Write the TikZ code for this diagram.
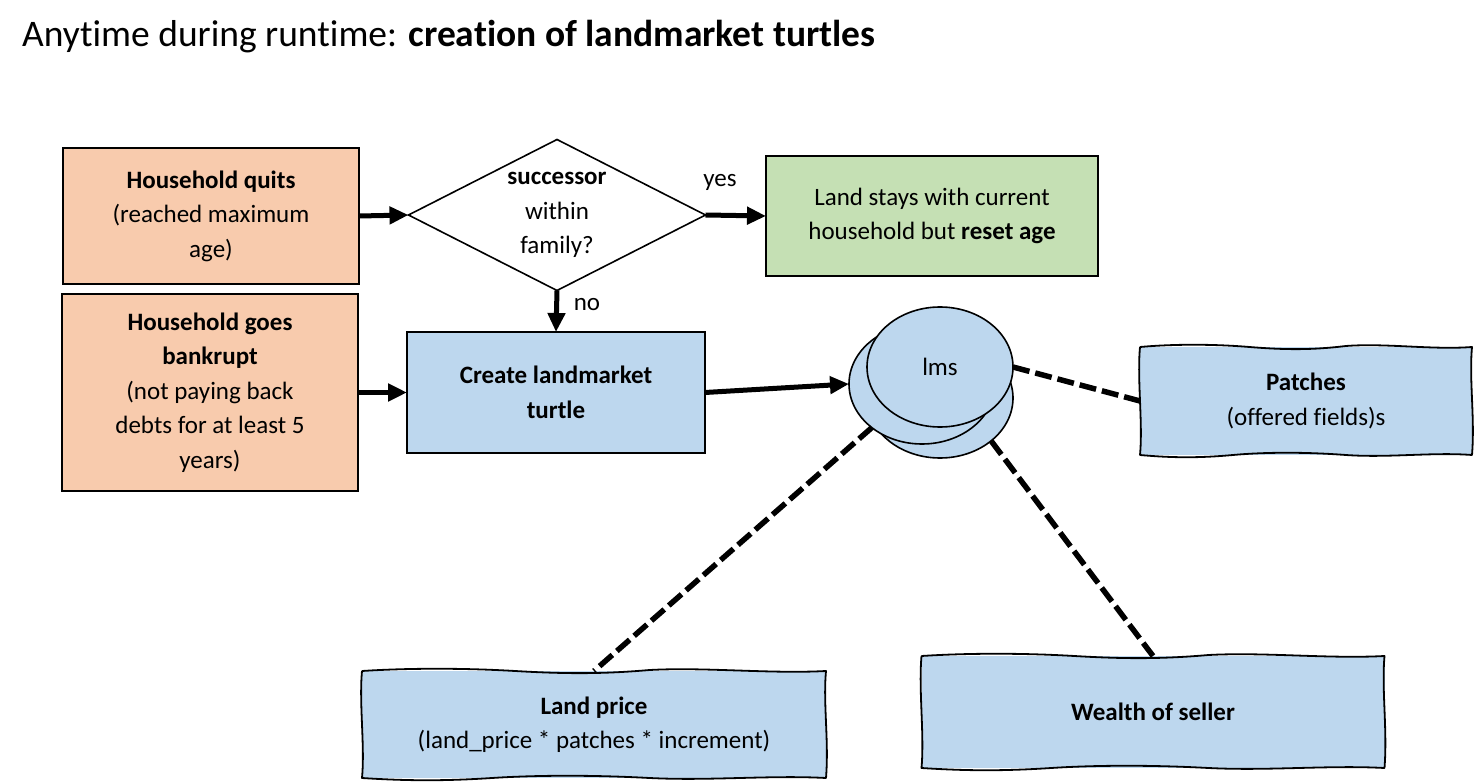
\documentclass[tikz,border=0pt]{standalone}
\usepackage{fontspec}
\setmainfont[Ligatures=NoCommon]{Carlito}
\usetikzlibrary{shapes.geometric,arrows.meta,calc}
\definecolor{hhorange}{HTML}{F8CBAD}
\definecolor{hhgreen}{HTML}{C5E0B4}
\definecolor{hhblue}{HTML}{BDD7EE}
\newcommand\wavyoutline[1]{%
\draw[wavyline]
 (#1.north west)
 .. controls ($(#1.north west)!0.10!(#1.north east)+(0,-3)$) and ($(#1.north west)!0.22!(#1.north east)+(0,-3)$) .. ($(#1.north west)!0.33!(#1.north east)$)
 .. controls ($(#1.north west)!0.44!(#1.north east)+(0,3)$) and ($(#1.north west)!0.52!(#1.north east)+(0,3)$) .. ($(#1.north west)!0.62!(#1.north east)+(0,-1)$)
 .. controls ($(#1.north west)!0.74!(#1.north east)+(0,-4)$) and ($(#1.north west)!0.88!(#1.north east)+(0,3)$) .. (#1.north east)
 .. controls ($(#1.north east)!0.3!(#1.south east)+(-3,0)$) and ($(#1.north east)!0.65!(#1.south east)+(3,0)$) .. (#1.south east)
 .. controls ($(#1.south east)!0.12!(#1.south west)+(0,-3)$) and ($(#1.south east)!0.25!(#1.south west)+(0,3)$) .. ($(#1.south east)!0.38!(#1.south west)$)
 .. controls ($(#1.south east)!0.5!(#1.south west)+(0,-3)$) and ($(#1.south east)!0.62!(#1.south west)+(0,-3)$) .. ($(#1.south east)!0.72!(#1.south west)$)
 .. controls ($(#1.south east)!0.82!(#1.south west)+(0,3)$) and ($(#1.south east)!0.9!(#1.south west)+(0,3)$) .. (#1.south west)
 .. controls ($(#1.south west)!0.3!(#1.north west)+(3,0)$) and ($(#1.south west)!0.7!(#1.north west)+(-3,0)$) .. (#1.north west);
}
\begin{document}
\begin{tikzpicture}[x=1pt,y=-1pt,
  txt/.style={font=\fontsize{25}{34.5}\selectfont, align=center},
  plainbox/.style={txt, draw, line width=1.8pt, inner sep=0pt, outer sep=0pt},
  sketchbox/.style={txt, fill=hhblue, inner sep=0pt, outer sep=0pt},
  lmsnode/.style={ellipse, draw, line width=1.6pt, fill=hhblue, minimum width=146pt, minimum height=120pt, inner sep=0pt, outer sep=0pt},
  flow/.style={line width=5pt, -{Triangle[length=19pt,width=17pt]}},
  assoc/.style={line width=5.5pt, dash pattern=on 17pt off 6pt},
  wavyline/.style={line width=1.8pt, line join=round}
]
\useasboundingbox[fill=white] (0,0) rectangle (1475,783);

\node[anchor=base west, font=\fontsize{37.5}{44}\selectfont, inner sep=0pt] (title) at (22,47)
  {Anytime during runtime: \textbf{creation of landmarket turtles}};

\node[plainbox, fill=hhorange, minimum width=296pt, minimum height=136pt] (quits) at (211,216)
  {\textbf{Household quits}\\(reached maximum\\age)};
\node[plainbox, fill=hhorange, minimum width=296pt, minimum height=197pt] (bankrupt) at (210,392.5)
  {\textbf{Household goes}\\\textbf{bankrupt}\\(not paying back\\debts for at least 5\\years)};

\node[diamond, draw, line width=1.6pt, minimum width=297pt, minimum height=151pt, inner sep=0pt, outer sep=0pt] (dec) at (557,215) {};
\node[txt] (dectext) at (dec.center) {\textbf{successor}\\within\\family?};

\node[plainbox, fill=hhgreen, minimum width=332pt, minimum height=120pt] (stay) at (932,216)
  {Land stays with current\\household but \textbf{reset age}};

\node[plainbox, fill=hhblue, minimum width=298pt, minimum height=121pt] (create) at (556,392.5)
  {\textbf{Create landmarket}\\\textbf{turtle}};

\node[lmsnode] (lmsC) at (940,398) {};
\node[lmsnode] (lmsB) at (922,384) {};
\node[lmsnode, txt] (lmsA) at (940,367) {lms};

\node[sketchbox, minimum width=332pt, minimum height=108pt] (patches) at (1306,401)
  {\textbf{Patches}\\(offered fields)s};
\wavyoutline{patches}
\node[sketchbox, minimum width=464pt, minimum height=107pt] (landprice) at (594,724.5)
  {\textbf{Land price}\\(land\_price * patches * increment)};
\wavyoutline{landprice}
\node[sketchbox, minimum width=463pt, minimum height=112pt] (wealth) at (1153,712)
  {\textbf{Wealth of seller}};
\wavyoutline{wealth}

\node[txt] (yeslbl) at (720,182) {yes};
\node[txt] (nolbl) at (587,305) {no};

\draw[flow] (quits.east) -- (dec.west);
\draw[flow] (bankrupt.east) -- (create.west);
\draw[flow] (dec.south) -- (create.north);
\draw[flow] (dec.east) -- (stay.west);
\draw[flow] (create.east) -- (lmsB.west);

\draw[assoc] (lmsA.east) -- (patches.west);
\draw[assoc] (lmsB.-139) -- (landprice.north);
\draw[assoc] (lmsC.-40) -- (wealth.north);
\end{tikzpicture}
\end{document}
